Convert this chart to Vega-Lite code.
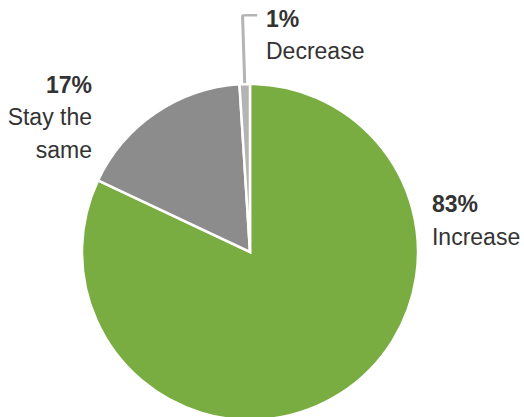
{
  "$schema": "https://vega.github.io/schema/vega-lite/v6.json",
  "width": 500,
  "height": 330,
  "autosize": {"type": "none"},
  "padding": {"left": 0, "top": 87, "right": 24, "bottom": 0},
  "background": "white",
  "config": {"view": {"stroke": null}, "text": {"font": "Liberation Sans", "color": "#333333", "fontSize": 23}},
  "data": {"values": [
    {"category": "Increase", "value": 82, "pct": "83%", "label": "Increase", "order": 1},
    {"category": "Stay the same", "value": 17, "pct": "17%", "label": "Stay the\nsame", "order": 2},
    {"category": "Decrease", "value": 1, "pct": "1%", "label": "Decrease", "order": 3}
  ]},
  "encoding": {
    "theta": {"field": "value", "type": "quantitative", "stack": true},
    "order": {"field": "order", "type": "quantitative"}
  },
  "layer": [
    {
      "mark": {"type": "arc", "outerRadius": 168, "stroke": "white", "strokeWidth": 2.5},
      "encoding": {
        "color": {"field": "category", "type": "nominal", "legend": null,
          "scale": {"domain": ["Increase", "Stay the same", "Decrease"], "range": ["#7aad41", "#8c8c8c", "#b4b4b4"]}}
      }
    },
    {
      "mark": {"type": "arc", "outerRadius": 237, "innerRadius": 169, "padAngle": 0.3, "fill": null, "stroke": "#b4b4b4", "strokeWidth": 3},
      "encoding": {"opacity": {"condition": {"test": "datum.category === 'Decrease'", "value": 1}, "value": 0}}
    },
    {
      "mark": {"type": "arc", "outerRadius": 238, "innerRadius": 235.5, "thetaOffset": 0.0304, "fill": "#b4b4b4"},
      "encoding": {"opacity": {"condition": {"test": "datum.category === 'Decrease'", "value": 1}, "value": 0}}
    },
    {
      "mark": {"type": "text", "align": "left", "baseline": "alphabetic", "radius": 186.3, "thetaOffset": -1.2217, "fontWeight": "bold"},
      "encoding": {"text": {"condition": {"test": "datum.category === 'Increase'", "field": "pct"}, "value": ""}}
    },
    {
      "mark": {"type": "text", "align": "left", "baseline": "alphabetic", "radius": 186.3, "thetaOffset": -1.2217, "dy": 32.5},
      "encoding": {"text": {"condition": {"test": "datum.category === 'Increase'", "field": "label"}, "value": ""}}
    },
    {
      "mark": {"type": "text", "align": "left", "baseline": "alphabetic", "radius": 225.6, "thetaOffset": 0.1024, "fontWeight": "bold"},
      "encoding": {"text": {"condition": {"test": "datum.category === 'Decrease'", "field": "pct"}, "value": ""}}
    },
    {
      "mark": {"type": "text", "align": "left", "baseline": "alphabetic", "radius": 225.6, "thetaOffset": 0.1024, "dy": 32.5},
      "encoding": {"text": {"condition": {"test": "datum.category === 'Decrease'", "field": "label"}, "value": ""}}
    },
    {
      "mark": {"type": "text", "align": "right", "baseline": "alphabetic", "radius": 224.2, "thetaOffset": -0.185, "fontWeight": "bold"},
      "encoding": {"text": {"condition": {"test": "datum.category === 'Stay the same'", "field": "pct"}, "value": ""}}
    },
    {
      "mark": {"type": "text", "align": "right", "baseline": "alphabetic", "radius": 224.2, "thetaOffset": -0.185, "dy": 32.5, "lineBreak": "\n", "lineHeight": 33},
      "encoding": {"text": {"condition": {"test": "datum.category === 'Stay the same'", "field": "label"}, "value": ""}}
    }
  ]
}
